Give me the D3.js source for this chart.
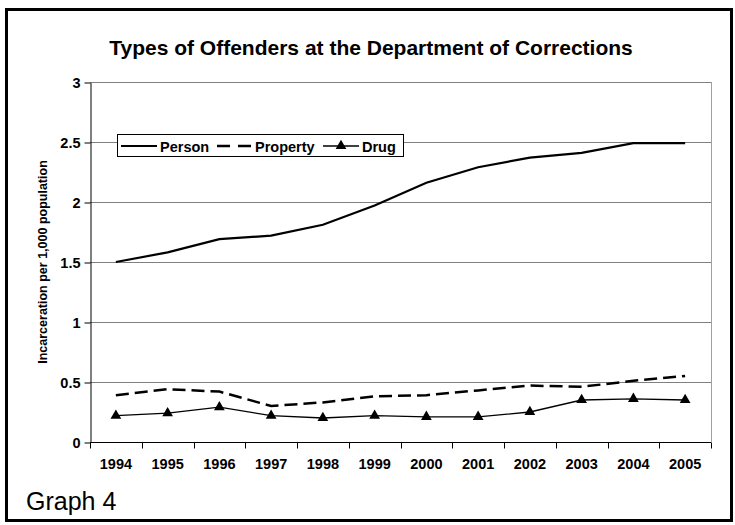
<!DOCTYPE html>
<html><head><meta charset="utf-8">
<script src="https://cdn.jsdelivr.net/npm/d3@7"></script>
<style>body{margin:0;background:#fff}svg{display:block}text{font-family:Arial,"Liberation Sans",sans-serif}</style>
</head><body><svg id="c" width="735" height="525"></svg>
<script>
const years = ["1994","1995","1996","1997","1998","1999","2000","2001","2002","2003","2004","2005"];
const person = [1.50,1.58,1.69,1.72,1.81,1.97,2.16,2.29,2.37,2.41,2.49,2.49];
const property = [0.39,0.44,0.42,0.30,0.33,0.38,0.39,0.43,0.47,0.46,0.51,0.55];
const drug = [0.22,0.24,0.29,0.22,0.20,0.22,0.21,0.21,0.25,0.35,0.36,0.35];
const yTicks = [0,0.5,1,1.5,2,2.5,3];
const yTickLabels = ["0","0.5","1","1.5","2","2.5","3"];

const svg = d3.select("#c");
const L=90, R=711, T=82, B=442;
svg.append("rect").attr("x",6.5).attr("y",9.5).attr("width",725).attr("height",511).attr("fill","#fff").attr("stroke","#000").attr("stroke-width",3);

const x = d3.scaleBand().domain(years).range([L,R]).padding(0);
const y = d3.scaleLinear().domain([0,3]).range([B,T]);

// gridlines
svg.append("g").selectAll("line").data(yTicks.slice(1)).join("line")
  .attr("x1",L).attr("x2",R).attr("y1",d=>y(d)+0.5).attr("y2",d=>y(d)+0.5)
  .attr("stroke","#808080").attr("stroke-width",1);
svg.append("line").attr("x1",R+0.5).attr("x2",R+0.5).attr("y1",T).attr("y2",B).attr("stroke","#a0a0a0");

// y axis
const ya = svg.append("g").attr("transform",`translate(${L+0.5},0.5)`)
  .call(d3.axisLeft(y).tickValues(yTicks).tickFormat((d,i)=>yTickLabels[i]).tickSize(6).tickSizeOuter(0).tickPadding(4));
ya.select(".domain").attr("stroke","#000");
ya.selectAll("text").attr("font-size",14.5).attr("font-weight","bold").attr("fill","#000");

// x axis with ticks between categories
const xa = svg.append("g").attr("transform",`translate(0,${B+0.5})`)
  .call(d3.axisBottom(x).tickSize(0).tickPadding(0));
xa.select(".domain").attr("stroke","#000").attr("d",`M${L},0H${R}`);
xa.selectAll("text").attr("font-size",14.5).attr("font-weight","bold").attr("fill","#000").attr("dy",null).attr("y",26);
xa.selectAll(".sep").data(d3.range(years.length+1)).join("line").attr("class","sep")
  .attr("x1",i=>Math.round(L+i*x.bandwidth())+0.5).attr("x2",i=>Math.round(L+i*x.bandwidth())+0.5)
  .attr("y1",0).attr("y2",6).attr("stroke","#000");

const cx = d=>x(d)+x.bandwidth()/2;
const line = d3.line().x(d=>cx(d[0])).y(d=>y(d[1]));
const z = (arr)=>years.map((yr,i)=>[yr,arr[i]]);

svg.append("path").datum(z(property)).attr("d",line).attr("fill","none").attr("stroke","#000").attr("stroke-width",2.5).attr("stroke-dasharray","13,6");
svg.append("path").datum(z(drug)).attr("d",line).attr("fill","none").attr("stroke","#000").attr("stroke-width",1.3);
svg.append("path").datum(z(person)).attr("d",line).attr("fill","none").attr("stroke","#000").attr("stroke-width",2.2);
const tri = d3.symbol().type(d3.symbolTriangle).size(50);
svg.append("g").selectAll("path").data(z(drug)).join("path")
  .attr("d",tri).attr("transform",d=>`translate(${cx(d[0])},${y(d[1])})`).attr("fill","#000");

// title
svg.append("text").attr("x",371).attr("y",55).attr("text-anchor","middle").attr("font-size",21).attr("font-weight","bold").text("Types of Offenders at the Department of Corrections");
// y label
svg.append("text").attr("transform","translate(47,262) rotate(-90)").attr("text-anchor","middle").attr("font-size",12.5).attr("font-weight","bold").text("Incarceration per 1,000 population");

// legend
const lg = svg.append("g");
lg.append("rect").attr("x",117.5).attr("y",134.5).attr("width",286).attr("height",22).attr("fill","#fff").attr("stroke","#000");
const ly=146;
lg.append("line").attr("x1",121).attr("x2",157).attr("y1",ly).attr("y2",ly).attr("stroke","#000").attr("stroke-width",2);
lg.append("text").attr("x",160).attr("y",ly+5.5).attr("font-size",14.5).attr("font-weight","bold").text("Person");
lg.append("line").attr("x1",217).attr("x2",252).attr("y1",ly).attr("y2",ly).attr("stroke","#000").attr("stroke-width",2.5).attr("stroke-dasharray","13,8");
lg.append("text").attr("x",255).attr("y",ly+5.5).attr("font-size",14.5).attr("font-weight","bold").text("Property");
lg.append("line").attr("x1",323).attr("x2",359).attr("y1",ly).attr("y2",ly).attr("stroke","#000").attr("stroke-width",1.3);
lg.append("path").attr("d",tri).attr("transform",`translate(341,${ly})`).attr("fill","#000");
lg.append("text").attr("x",362).attr("y",ly+5.5).attr("font-size",14.5).attr("font-weight","bold").text("Drug");

svg.append("text").attr("x",26).attr("y",510).attr("font-size",25).text("Graph 4");
</script></body></html>
